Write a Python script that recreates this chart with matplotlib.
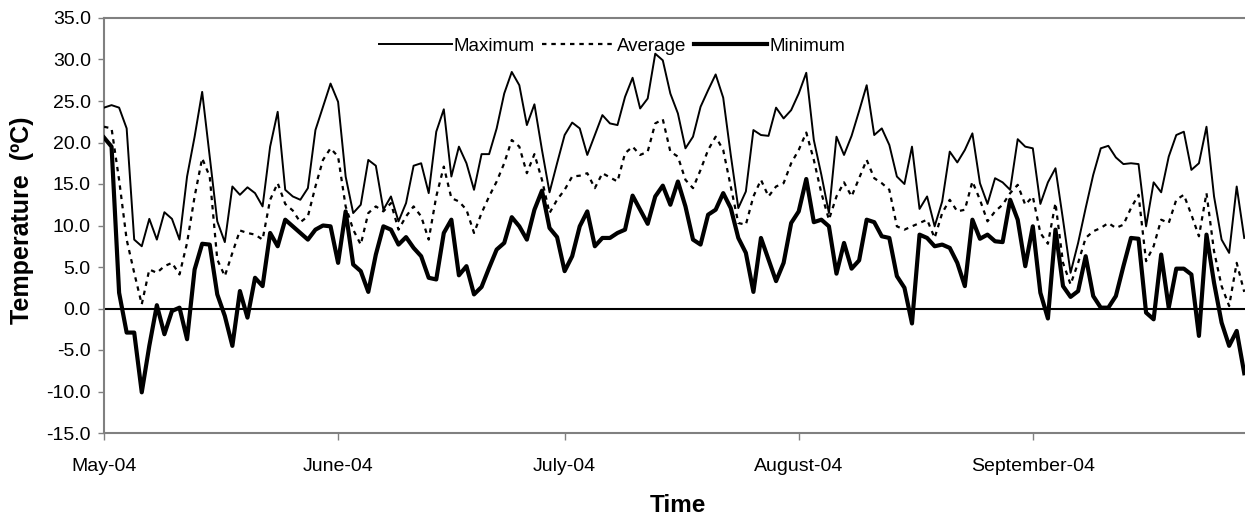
import numpy as np
import matplotlib
matplotlib.use("Agg")
import matplotlib.pyplot as plt
import matplotlib.dates as mdates
from matplotlib.ticker import FormatStrFormatter

plt.rcParams["font.family"] = ["Liberation Sans", "DejaVu Sans"]

# ── Data: daily temperatures, 1 May 2004 onwards (ºC) ────────────────────────
dates = np.arange("2004-05-01", "2004-09-30", dtype="datetime64[D]")

t_max = [24.2, 24.5, 24.2, 21.7, 8.3, 7.5, 10.8, 8.3, 11.6, 10.8,
         8.3, 15.9, 20.7, 26.1, 18.3, 10.5, 8.0, 14.7, 13.7, 14.6,
         13.9, 12.3, 19.5, 23.7, 14.3, 13.5, 13.1, 14.5, 21.5, 24.3,
         27.1, 24.9, 15.9, 11.5, 12.5, 17.9, 17.2, 11.9, 13.5, 10.5,
         12.7, 17.2, 17.5, 13.9, 21.3, 24.0, 15.9, 19.5, 17.5, 14.3,
         18.6, 18.6, 21.7, 25.9, 28.5, 26.9, 22.1, 24.6, 19.1, 14.0,
         17.5, 20.9, 22.4, 21.7, 18.5, 20.9, 23.3, 22.3, 22.1, 25.5,
         27.8, 24.1, 25.3, 30.7, 29.9, 25.9, 23.5, 19.3, 20.7, 24.3,
         26.3, 28.2, 25.4, 18.5, 12.1, 14.1, 21.5, 20.9, 20.8, 24.2,
         22.9, 23.9, 25.9, 28.4, 20.3, 16.1, 11.5, 20.7, 18.5, 20.8,
         23.8, 26.9, 20.9, 21.7, 19.7, 15.9, 15.0, 19.5, 12.0, 13.5,
         9.9, 12.9, 18.9, 17.6, 19.1, 21.1, 15.1, 12.6, 15.7, 15.2,
         14.3, 20.4, 19.5, 19.3, 12.6, 15.2, 16.9, 10.7, 4.3, 7.9,
         12.1, 16.1, 19.3, 19.6, 18.2, 17.4, 17.5, 17.4, 9.9, 15.2,
         14.0, 18.3, 20.9, 21.3, 16.7, 17.5, 21.9, 13.5, 8.3, 6.7,
         14.7, 8.5]

t_avg = [21.9, 21.7, 15.5, 8.3, 4.3, 0.5, 4.7, 4.3, 5.1, 5.5,
         4.1, 7.9, 13.5, 18.1, 15.9, 5.9, 3.9, 6.7, 9.4, 9.1,
         8.9, 8.3, 13.1, 15.1, 12.6, 11.8, 10.4, 11.1, 14.7, 17.9,
         19.3, 18.3, 12.3, 9.5, 7.7, 11.5, 12.3, 11.7, 12.7, 9.5,
         11.1, 12.3, 11.1, 8.3, 13.5, 17.1, 13.3, 12.9, 11.9, 9.1,
         11.5, 13.5, 15.3, 17.5, 20.3, 19.5, 16.3, 18.6, 15.5, 11.5,
         13.1, 14.3, 15.9, 16.0, 16.3, 14.5, 16.3, 15.8, 15.3, 18.7,
         19.5, 18.5, 18.9, 22.3, 22.8, 18.9, 18.3, 15.5, 14.5, 16.7,
         19.1, 20.7, 19.1, 14.7, 10.3, 10.1, 13.5, 15.5, 13.5, 14.7,
         15.1, 17.5, 19.1, 21.2, 17.9, 13.9, 10.7, 13.5, 15.2, 13.5,
         15.7, 17.9, 15.7, 15.1, 14.3, 9.9, 9.5, 9.9, 10.3, 10.7,
         8.5, 11.5, 13.1, 11.7, 11.9, 15.3, 13.1, 10.5, 11.7, 12.5,
         13.9, 14.9, 12.5, 13.5, 9.1, 7.8, 12.7, 5.5, 2.9, 5.5,
         8.5, 9.3, 9.7, 10.3, 9.7, 10.1, 12.1, 13.7, 5.7, 7.5,
         10.7, 10.3, 13.1, 13.7, 11.3, 8.7, 13.9, 6.9, 2.7, 0.3,
         5.5, 2.0]

t_min = [20.6, 19.5, 1.9, -2.9, -2.9, -10.1, -4.5, 0.4, -3.1, -0.3,
         0.1, -3.7, 4.7, 7.8, 7.7, 1.7, -0.9, -4.5, 2.1, -1.1,
         3.7, 2.7, 9.1, 7.5, 10.7, 9.9, 9.1, 8.3, 9.5, 10.0,
         9.9, 5.5, 11.7, 5.3, 4.5, 2.0, 6.5, 9.9, 9.5, 7.7,
         8.6, 7.3, 6.3, 3.7, 3.5, 9.1, 10.7, 4.0, 5.1, 1.7,
         2.6, 4.9, 7.1, 7.9, 11.0, 9.9, 8.3, 11.9, 14.2, 9.7,
         8.6, 4.5, 6.3, 9.9, 11.7, 7.5, 8.5, 8.5, 9.1, 9.5,
         13.6, 11.9, 10.2, 13.5, 14.8, 12.5, 15.3, 12.3, 8.3, 7.7,
         11.3, 11.9, 13.9, 12.1, 8.5, 6.7, 2.0, 8.5, 5.9, 3.3,
         5.5, 10.3, 11.7, 15.6, 10.4, 10.7, 9.9, 4.2, 7.9, 4.8,
         5.8, 10.7, 10.4, 8.7, 8.5, 3.9, 2.5, -1.8, 8.9, 8.5,
         7.5, 7.7, 7.3, 5.5, 2.7, 10.7, 8.4, 8.9, 8.1, 8.0,
         13.1, 10.7, 5.1, 9.9, 1.9, -1.2, 9.5, 2.7, 1.4, 2.1,
         6.3, 1.5, 0.1, 0.1, 1.5, 5.1, 8.5, 8.4, -0.5, -1.3,
         6.5, 0.1, 4.8, 4.8, 4.1, -3.3, 8.9, 3.1, -1.7, -4.5,
         -2.7, -7.8]

y_ticks = np.arange(-15, 35.1, 5)

# ── Figure ────────────────────────────────────────────────────────────────────
W, H = 1245, 518
fig = plt.figure(figsize=(W / 100, H / 100), dpi=100)
ax = fig.add_axes([104 / W, 1 - 433 / H, (W - 104) / W, (433 - 18) / H])

x = mdates.date2num(dates)
ax.plot(x, t_max, color="black", lw=1.4, label="Maximum", zorder=3)
ax.plot(x, t_avg, color="black", lw=1.6, dashes=(2.0, 2.2), label="Average", zorder=3)
ax.plot(x, t_min, color="black", lw=3.0, label="Minimum", zorder=4)
ax.axhline(0, color="black", lw=1.5, zorder=2)

ax.set_xlim(x[0], x[0] + 151.1)
ax.set_ylim(-15, 35)
ax.set_yticks(y_ticks)
ax.yaxis.set_major_formatter(FormatStrFormatter("%.1f"))
ax.xaxis.set_major_locator(mdates.MonthLocator())
ax.xaxis.set_major_formatter(mdates.DateFormatter("%B-%y"))

for side in ["left", "top", "bottom"]:
    ax.spines[side].set_color("#808080")
    ax.spines[side].set_linewidth(1.5)
ax.spines["right"].set_visible(False)

ax.tick_params(axis="y", direction="out", length=4.5, width=1, color="#808080",
               labelsize=14, pad=5)
ax.tick_params(axis="x", direction="out", length=5, width=1, color="#808080",
               labelsize=14, pad=13)

# ── Labels and legend ─────────────────────────────────────────────────────────
fig.text(22 / W, 1 - 220 / H, "Temperature  (ºC)", rotation=90, ha="center",
         va="center", fontsize=18, fontweight="bold")
fig.text(678 / W, 1 - 506 / H, "Time", ha="center", va="center",
         fontsize=17.5, fontweight="bold")

fig.legend(loc="center", bbox_to_anchor=(612 / W, 1 - 46 / H), ncol=3,
           frameon=False, fontsize=13.5, handlelength=3.9, handletextpad=0.1,
           columnspacing=0.4)

fig.savefig("out.png", dpi=100)
